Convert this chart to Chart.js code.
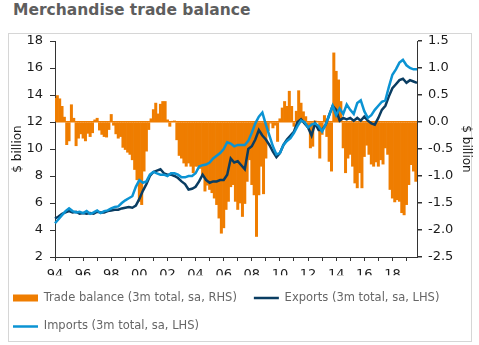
<!DOCTYPE html>
<html><head><meta charset="utf-8">
<script src="https://cdn.jsdelivr.net/npm/chart.js@4.4.0/dist/chart.umd.min.js"></script>
<style>
html,body{margin:0;padding:0;background:#fff;width:479px;height:345px;overflow:hidden;position:relative;}
#title{position:absolute;left:13px;top:1px;font:bold 15.5px "DejaVu Sans",sans-serif;color:#5e5e5e;white-space:nowrap;}
#box{position:absolute;left:8px;top:33px;width:464px;height:309px;border:1px solid #d6d6d6;box-sizing:border-box;}
#c{position:absolute;left:-4px;top:0;}
</style></head>
<body>
<div id="title">Merchandise trade balance</div>
<div id="box"></div>
<canvas id="c" width="483" height="345"></canvas>
<script>
// ---- categories: months 1994-01 .. 2019-10 ----
const months = [];
for (let y = 1994; y <= 2019; y++) for (let m = 1; m <= 12; m++) {
  if (y === 2019 && m > 10) break;
  months.push(y + '-' + String(m).padStart(2, '0'));
}
const tickLabels = ['94','96','98','00','02','04','06','08','10','12','14','16','18'];
const leftTicks = [2,4,6,8,10,12,14,16,18];
const rightTicks = [-2.5,-2.0,-1.5,-1.0,-0.5,0.0,0.5,1.0,1.5];
const seriesNames = ['Trade balance (3m total, sa, RHS)', 'Exports (3m total, sa, LHS)', 'Imports (3m total, sa, LHS)'];

// Trade balance, every second month from 1994-01 (RHS, $bn)
const tradeBalance = [
  0.44, 0.49, 0.43, 0.29, 0.09, -0.42, -0.35, 0.32, 0.07, -0.44, -0.30, -0.22,
  -0.30, -0.35, -0.21, -0.27, -0.20, 0.04, 0.07, -0.15, -0.23, -0.27, -0.28, -0.14,
  0.14, -0.06, -0.22, -0.30, -0.27, -0.47, -0.51, -0.56, -0.60, -0.70, -0.88, -1.07,
  -1.47, -1.53, -0.91, -0.54, -0.14, 0.06, 0.23, 0.35, 0.15, 0.33, 0.38, 0.38,
  0.04, -0.08, 0.01, 0.02, -0.33, -0.62, -0.67, -0.76, -0.82, -0.76, -0.82, -0.94,
  -0.82, -0.82, -0.86, -0.98, -1.28, -1.17, -1.25, -1.31, -1.41, -1.53, -1.78, -2.06,
  -1.96, -1.62, -1.47, -1.20, -1.16, -1.47, -1.62, -1.50, -1.75, -1.51, -1.10, -0.70,
  -1.16, -1.35, -2.12, -1.35, -0.82, -1.33, -0.67, -0.16, -0.02, -0.11, -0.06, -0.36,
  0.06, 0.26, 0.38, 0.29, 0.57, 0.29, -0.08, 0.20, 0.58, 0.35, 0.19, 0.10,
  -0.10, -0.48, -0.45, 0.02, 0.01, -0.67, -0.23, 0.12, -0.27, -0.73, -0.91, 1.28,
  0.94, 0.78, 0.38, -0.48, -0.94, -0.67, -0.60, -0.82, -1.13, -1.22, -0.94, -1.22,
  -0.64, -0.43, -0.60, -0.78, -0.82, -0.74, -0.82, -0.70, -0.78, -0.48, -0.60, -1.25,
  -1.41, -1.48, -1.44, -1.47, -1.68, -1.72, -1.53, -1.16, -0.79, -0.91, -1.10
];
// Exports and imports, quarterly from 1994-01 (LHS, $bn)
const exportsLHS = [
  4.85, 5.0, 5.2, 5.3, 5.4, 5.3, 5.35, 5.2,
  5.25, 5.2, 5.25, 5.2, 5.35, 5.3, 5.3, 5.4,
  5.45, 5.5, 5.5, 5.6, 5.65, 5.7, 5.65, 5.8,
  6.3, 6.9, 7.4, 8.0, 8.3, 8.4, 8.5, 8.2,
  8.1, 8.1, 8.0, 7.85, 7.6, 7.4, 7.0, 7.05,
  7.2, 7.6, 8.1, 7.7, 7.5, 7.6, 7.6, 7.7,
  7.7, 8.1, 9.3, 9.0, 9.1, 8.8, 8.5, 10.0,
  10.2, 10.7, 11.4, 11.0, 10.7, 10.3, 9.8, 9.4,
  9.7, 10.3, 10.7, 11.0, 11.3, 12.0, 12.2, 11.9,
  11.6, 11.0, 11.9, 11.4, 11.4, 11.8, 12.5, 13.2,
  12.9, 12.1, 12.3, 12.2, 12.3, 12.1, 12.3, 12.1,
  12.4, 12.1, 11.9, 11.8, 12.3, 12.9, 13.2, 13.9,
  14.5, 14.8, 15.1, 15.2, 14.9, 15.1, 15.0, 14.9
];
const importsLHS = [
  4.5, 4.8, 5.1, 5.4, 5.6, 5.4, 5.3, 5.35,
  5.25, 5.4, 5.2, 5.3, 5.45, 5.25, 5.4, 5.45,
  5.6, 5.7, 5.75, 6.0, 6.2, 6.35, 6.5, 7.2,
  7.7, 7.5, 7.6, 8.1, 8.3, 8.2, 8.1, 8.1,
  8.0, 8.2, 8.2, 8.1, 7.9, 7.9, 8.0, 8.0,
  8.2, 8.7, 8.8, 8.85, 9.0, 9.3, 9.5, 9.7,
  10.0, 10.5, 10.4, 10.2, 10.3, 10.3, 10.3, 10.6,
  11.2, 11.9, 12.4, 12.7, 11.8, 11.0, 10.2, 9.6,
  9.7, 10.3, 10.6, 10.8, 11.2, 11.7, 12.1, 12.0,
  11.6, 11.8, 11.9, 11.7, 11.3, 11.8, 12.5, 13.2,
  12.5, 13.0, 12.6, 13.3, 12.9, 12.6, 13.4, 13.6,
  12.8, 12.3, 12.5, 12.9, 13.2, 13.5, 13.6, 14.6,
  15.5, 15.9, 16.4, 16.6, 16.2, 16.0, 15.9, 15.9
];

// ---- styles ----
const BAR = '#EF7D00', EXP = '#0A3D62', IMP = '#0B93D3';
const AXIS = '#333333', TXT = '#1c1c1c', LEG = '#666666';
Chart.defaults.font.family = '"DejaVu Sans", sans-serif';

new Chart(document.getElementById('c'), {
  type: 'bar',
  data: {
    labels: months,
    datasets: [
      { type: 'bar', label: seriesNames[0], yAxisID: 'y2', backgroundColor: BAR,
        data: tradeBalance.map((v, i) => ({ x: months[2 * i], y: v })),
        borderWidth: 0, barThickness: 'flex', barPercentage: 1, categoryPercentage: 1, order: 3 },
      { type: 'line', label: seriesNames[1], yAxisID: 'y', borderColor: EXP,
        data: exportsLHS.map((v, i) => ({ x: months[3 * i], y: v })),
        borderWidth: 2.5, pointRadius: 0, tension: 0, fill: false, order: 2 },
      { type: 'line', label: seriesNames[2], yAxisID: 'y', borderColor: IMP,
        data: importsLHS.map((v, i) => ({ x: months[3 * i], y: v })),
        borderWidth: 2.5, pointRadius: 0, tension: 0, fill: false, order: 1 }
    ]
  },
  options: {
    responsive: false, animation: false, devicePixelRatio: 1,
    layout: { padding: { left: 0, right: 0, top: 41, bottom: 2.75 } },
    plugins: {
      tooltip: { enabled: false },
      title: { display: false },
      legend: {
        position: 'bottom', align: 'start',
        labels: {
          usePointStyle: true, pointStyleWidth: 25, boxHeight: 7, padding: 17,
          color: LEG, font: { size: 11.5 },
          generateLabels: () => [
            { text: seriesNames[0], fillStyle: BAR, strokeStyle: BAR, lineWidth: 0, pointStyle: 'rect', datasetIndex: 0, fontColor: LEG },
            { text: seriesNames[1], fillStyle: EXP, strokeStyle: EXP, lineWidth: 2.5, pointStyle: 'line', datasetIndex: 1, fontColor: LEG },
            { text: seriesNames[2], fillStyle: IMP, strokeStyle: IMP, lineWidth: 2.5, pointStyle: 'line', datasetIndex: 2, fontColor: LEG }
          ]
        }
      }
    },
    scales: {
      x: {
        type: 'category', offset: false,
        grid: { offset: false, drawOnChartArea: false, tickLength: 4,
                tickColor: (ctx) => (ctx.index % 12 === 0 ? AXIS : 'rgba(0,0,0,0)') },
        border: { display: true, color: AXIS, width: 1 },
        ticks: { autoSkip: false, maxRotation: 0, minRotation: 0, padding: 6, color: TXT, font: { size: 13 },
                 callback: (v, i) => (i % 24 === 0 ? tickLabels[i / 24] : '') },
        afterFit: (s) => { s.height = 18.25; }
      },
      y: {
        position: 'left', min: 2, max: 18,
        afterBuildTicks: (s) => { s.ticks = leftTicks.map(v => ({ value: v })); },
        grid: { drawOnChartArea: false, tickLength: 5, tickColor: AXIS },
        border: { display: true, color: AXIS, width: 1 },
        ticks: { padding: 7, color: TXT, font: { size: 13 }, callback: (v) => String(v) },
        title: { display: true, text: '$ billion', color: TXT, font: { size: 12 }, padding: { top: 14.8, bottom: 4 } },
        afterFit: (s) => { s.width = 59; }
      },
      y2: {
        position: 'right', min: -2.5, max: 1.5,
        afterBuildTicks: (s) => { s.ticks = rightTicks.map(v => ({ value: v })); },
        grid: { drawOnChartArea: true, tickLength: 5, tickColor: AXIS, lineWidth: 1.5,
                color: (ctx) => (ctx.tick && ctx.tick.value === 0 ? BAR : 'rgba(0,0,0,0)') },
        border: { display: true, color: AXIS, width: 1 },
        ticks: { padding: 6, color: TXT, font: { size: 13 }, callback: (v) => Number(v).toFixed(1) },
        title: { display: true, text: '$ billion', color: TXT, font: { size: 12 }, padding: { top: 5.8, bottom: 4 } },
        afterFit: (s) => { s.width = 62; }
      }
    }
  }
});
</script>
</body></html>
